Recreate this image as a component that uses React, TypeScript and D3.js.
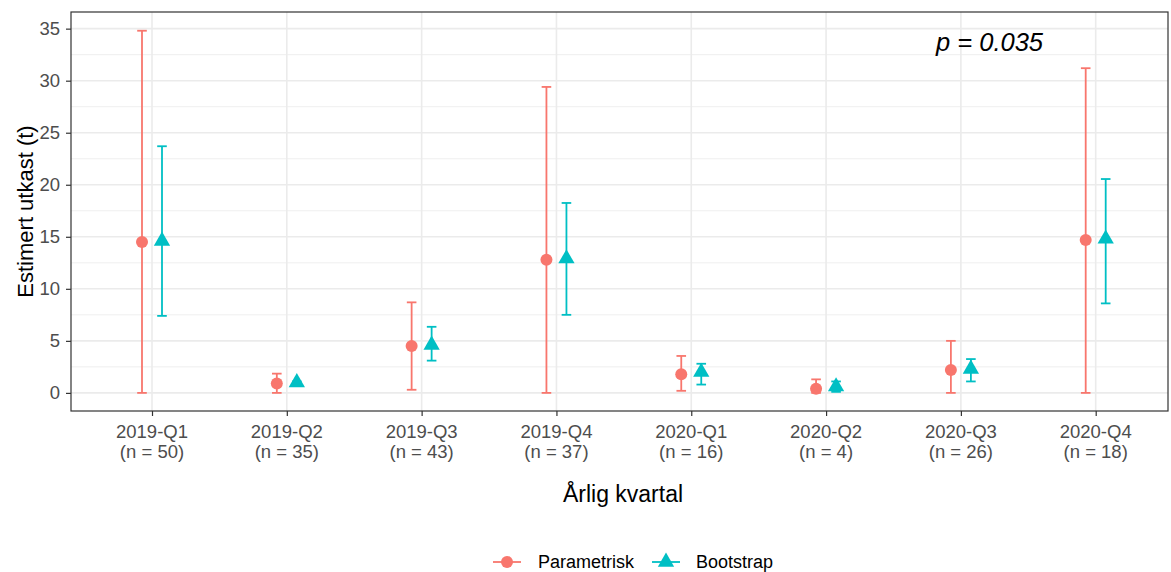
import React from 'react';
import * as d3 from 'd3';

// quarters on the x axis and the sample sizes shown under them
const quarters = ['2019-Q1', '2019-Q2', '2019-Q3', '2019-Q4', '2020-Q1', '2020-Q2', '2020-Q3', '2020-Q4'];
const counts = [50, 35, 43, 37, 16, 4, 26, 18];

// parametric estimate with interval
const paramEst = [14.5, 0.9, 4.5, 12.8, 1.8, 0.4, 2.2, 14.7];
const paramLow = [0, 0, 0.3, 0, 0.2, 0, 0, 0];
const paramHigh = [34.8, 1.85, 8.7, 29.4, 3.55, 1.3, 5.0, 31.2];

// bootstrap estimate with interval
const bootEst = [14.6, 1.0, 4.6, 12.9, 2.0, 0.6, 2.3, 14.8];
const bootLow = [7.4, 0.9, 3.1, 7.5, 0.8, 0.1, 1.1, 8.6];
const bootHigh = [23.7, 1.1, 6.35, 18.25, 2.8, 1.1, 3.25, 20.55];

const yTicks = [0, 5, 10, 15, 20, 25, 30, 35];
const yMinor = [2.5, 7.5, 12.5, 17.5, 22.5, 27.5, 32.5];

const RED = '#F8766D';
const TEAL = '#00BFC4';
const FONT = '"Liberation Sans", Arial, sans-serif';

const App = () => {
    const svgRef = React.useRef<SVGSVGElement>(null);

    React.useEffect(() => {
        document.body.style.margin = '0';
        document.documentElement.style.overflow = 'hidden';

        const svg = d3.select(svgRef.current);
        svg.selectAll('*').remove();

        const W = 1171, H = 572;
        const panel = { left: 71, right: 1168, top: 12, bottom: 411 };

        const x = d3.scalePoint<string>().domain(quarters).range([152, 1095.7]);
        const y = d3.scaleLinear().domain([-1.74, 36.6]).range([panel.bottom, panel.top]);
        const dodge = 10;

        svg.attr('width', W).attr('height', H).style('font-family', FONT);

        svg.append('rect').attr('x', 0).attr('y', 0).attr('width', W).attr('height', H).attr('fill', '#fff');

        const grid = svg.append('g');
        grid.selectAll('.minor').data(yMinor).join('line')
            .attr('x1', panel.left).attr('x2', panel.right)
            .attr('y1', d => y(d)).attr('y2', d => y(d))
            .attr('stroke', '#EBEBEB').attr('stroke-width', 0.8);
        grid.selectAll('.major').data(yTicks).join('line')
            .attr('x1', panel.left).attr('x2', panel.right)
            .attr('y1', d => y(d)).attr('y2', d => y(d))
            .attr('stroke', '#EBEBEB').attr('stroke-width', 1.6);
        grid.selectAll('.vmajor').data(quarters).join('line')
            .attr('x1', d => x(d)!).attr('x2', d => x(d)!)
            .attr('y1', panel.top).attr('y2', panel.bottom)
            .attr('stroke', '#EBEBEB').attr('stroke-width', 1.6);

        // error bars
        const series = [
            { est: paramEst, low: paramLow, high: paramHigh, color: RED, off: -dodge, shape: 'circle' },
            { est: bootEst, low: bootLow, high: bootHigh, color: TEAL, off: dodge, shape: 'triangle' },
        ];

        const tri = d3.symbol().type(d3.symbolTriangle).size(115);

        series.forEach(s => {
            const g = svg.append('g');
            quarters.forEach((q, i) => {
                const cx = x(q)! + s.off;
                g.append('line').attr('x1', cx).attr('x2', cx)
                    .attr('y1', y(s.low[i])).attr('y2', y(s.high[i]))
                    .attr('stroke', s.color).attr('stroke-width', 1.8);
                [s.low[i], s.high[i]].forEach(v => {
                    g.append('line').attr('x1', cx - 4.8).attr('x2', cx + 4.8)
                        .attr('y1', y(v)).attr('y2', y(v))
                        .attr('stroke', s.color).attr('stroke-width', 1.8);
                });
                if (s.shape === 'circle') {
                    g.append('circle').attr('cx', cx).attr('cy', y(s.est[i])).attr('r', 6).attr('fill', s.color);
                } else {
                    g.append('path').attr('d', tri).attr('transform', `translate(${cx},${y(s.est[i])})`).attr('fill', s.color);
                }
            });
        });

        // panel border
        svg.append('rect').attr('x', panel.left).attr('y', panel.top)
            .attr('width', panel.right - panel.left).attr('height', panel.bottom - panel.top)
            .attr('fill', 'none').attr('stroke', '#333').attr('stroke-width', 1.2);

        // y axis
        const yAxisG = svg.append('g').attr('transform', `translate(${panel.left},0)`)
            .call(d3.axisLeft(y).tickValues(yTicks).tickSize(5).tickPadding(6));
        yAxisG.select('.domain').remove();
        yAxisG.selectAll('line').attr('stroke', '#333').attr('stroke-width', 1.2);
        yAxisG.selectAll('text').attr('fill', '#4D4D4D').style('font-size', '18.5px').style('font-family', FONT);

        // x axis
        const xAxisG = svg.append('g').attr('transform', `translate(0,${panel.bottom})`)
            .call(d3.axisBottom(x).tickSize(5).tickFormat(() => ''));
        xAxisG.select('.domain').remove();
        xAxisG.selectAll('line').attr('stroke', '#333').attr('stroke-width', 1.2);

        const xl = svg.append('g').attr('fill', '#4D4D4D').style('font-size', '18.5px').attr('text-anchor', 'middle');
        quarters.forEach((q, i) => {
            xl.append('text').attr('x', x(q)!).attr('y', 438).text(q);
            xl.append('text').attr('x', x(q)!).attr('y', 458).text(`(n = ${counts[i]})`);
        });

        // titles
        svg.append('text').attr('x', 623).attr('y', 502)
            .attr('text-anchor', 'middle').style('font-size', '23px').attr('fill', '#000')
            .text('Årlig kvartal');
        svg.append('text').attr('transform', `translate(33,${(panel.top + panel.bottom) / 2}) rotate(-90)`)
            .attr('text-anchor', 'middle').style('font-size', '22px').attr('fill', '#000')
            .text('Estimert utkast (t)');

        svg.append('text').attr('x', 936).attr('y', 51)
            .style('font-size', '25.5px').style('font-style', 'italic').attr('fill', '#000')
            .text('p = 0.035');

        // legend
        const lg = svg.append('g');
        const legendItems = [
            { label: 'Parametrisk', color: RED, shape: 'circle', cx: 507, tx: 538 },
            { label: 'Bootstrap', color: TEAL, shape: 'triangle', cx: 666, tx: 696 },
        ];
        legendItems.forEach(it => {
            lg.append('line').attr('x1', it.cx - 14).attr('x2', it.cx + 14).attr('y1', 562).attr('y2', 562)
                .attr('stroke', it.color).attr('stroke-width', 1.8);
            if (it.shape === 'circle') {
                lg.append('circle').attr('cx', it.cx).attr('cy', 562).attr('r', 6).attr('fill', it.color);
            } else {
                lg.append('path').attr('d', tri).attr('transform', `translate(${it.cx},562)`).attr('fill', it.color);
            }
            lg.append('text').attr('x', it.tx).attr('y', 568).style('font-size', '18px').attr('fill', '#000').text(it.label);
        });
    }, []);

    return (
        <div style={{ width: 1171, height: 572, overflow: 'hidden' }}>
            <svg ref={svgRef} style={{ display: 'block' }}></svg>
        </div>
    );
};

export default App;
